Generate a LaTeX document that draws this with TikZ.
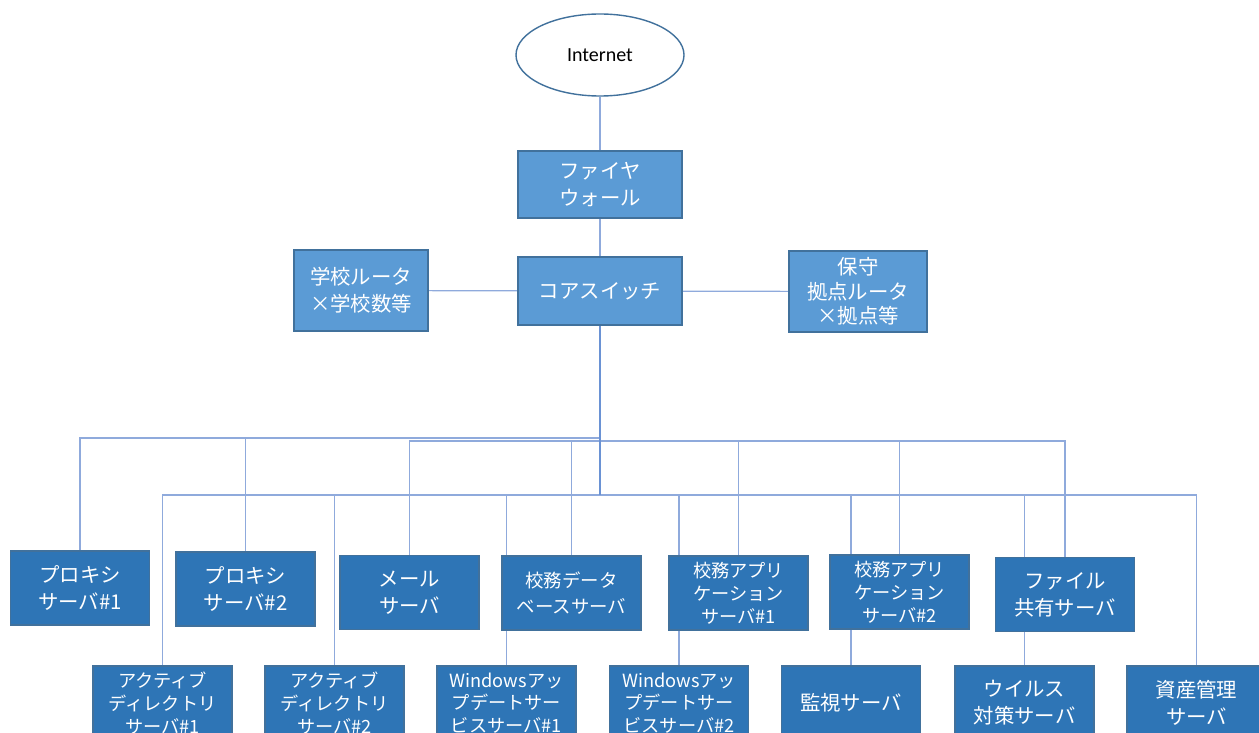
\documentclass[tikz,border=0pt]{standalone}
\usepackage{fontspec}
\newfontfamily\cjk{Noto Sans CJK JP}
\newfontfamily\lat{Carlito}
\usetikzlibrary{shapes.geometric,backgrounds,calc}
\definecolor{topfill}{HTML}{5B9BD5}
\definecolor{lowfill}{HTML}{2E75B6}
\definecolor{boxline}{HTML}{41719C}
\definecolor{linkc}{HTML}{8FAADC}
\definecolor{trunkc}{HTML}{6A92D4}
\begin{document}
\begin{tikzpicture}[x=0.5pt,y=-0.5pt,
  box/.style={draw=boxline,line width=0.6pt,fill=lowfill,text=white,align=center,
    font=\cjk\fontsize{10.2}{13.5}\selectfont,minimum width=69.5pt,minimum height=37pt,inner sep=1pt},
  small/.style={font=\cjk\fontsize{9.1}{11.4}\selectfont},
  topbox/.style={box,fill=topfill},
  link/.style={draw=linkc,line width=0.6pt},
  trunk/.style={draw=trunkc,line width=0.7pt}]
\useasboundingbox (0,0) rectangle (1259,733);
% top part
\node[ellipse,draw=boxline,line width=0.7pt,fill=white,minimum width=84pt,minimum height=41pt,
  font=\lat\fontsize{10}{12}\selectfont] (inet) at (600,55) {Internet};
\node[topbox,minimum width=82pt,minimum height=33.5pt] (fw) at (600,184.5) {ファイヤ\\ウォール};
\node[topbox,minimum width=82pt,minimum height=34pt] (core) at (600,291) {コアスイッチ};
\node[topbox,minimum width=67pt,minimum height=40.5pt] (school) at (361,290.5) {学校ルータ\\×学校数等};
\node[topbox,minimum width=69pt,minimum height=40.5pt,font=\cjk\fontsize{10.2}{12.3}\selectfont] (hoshu) at (858,291.5) {保守\\拠点ルータ\\×拠点等};
% middle row
\node[box] (px1) at (80,588) {プロキシ\\サーバ\#1};
\node[box] (px2) at (245.5,589) {プロキシ\\サーバ\#2};
\node[box] (mail) at (409.5,592.5) {メール\\サーバ};
\node[box,small,font=\cjk\fontsize{9.2}{13}\selectfont] (db) at (571.5,593) {校務データ\\ベースサーバ};
\node[box,small] (app1) at (738.5,593) {校務アプリ\\ケーション\\サーバ\#1};
\node[box,small] (app2) at (899.5,592) {校務アプリ\\ケーション\\サーバ\#2};
\node[box] (file) at (1065,594.5) {ファイル\\共有サーバ};
% bottom row
\node[box,small] (ad1) at (162.5,703) {アクティブ\\ディレクトリ\\サーバ\#1};
\node[box,small] (ad2) at (334.5,703) {アクティブ\\ディレクトリ\\サーバ\#2};
\node[box,small] (win1) at (506.5,703) {Windowsアッ\\プデートサー\\ビスサーバ\#1};
\node[box,small] (win2) at (679,703) {Windowsアッ\\プデートサー\\ビスサーバ\#2};
\node[box] (mon) at (851,703) {監視サーバ};
\node[box] (virus) at (1024.5,703) {ウイルス\\対策サーバ};
\node[box] (asset) at (1196.5,703) {資産管理\\サーバ};
% connectors
\coordinate (busA) at (600,438);
\coordinate (busB) at (600,441);
\coordinate (busC) at (600,495);
\begin{scope}[on background layer]
\fill[white] (0,0) rectangle (1259,733);
\draw[link] (inet) -- (fw);
\draw[link] (fw) -- (core);
\draw[link] (core) -- (school);
\draw[link] (core) -- (hoshu);
\foreach \n in {px1,px2}
  \draw[link] (busA) -| (\n.north);
\foreach \n in {mail,db,app1,app2,file}
  \draw[link] (busB) -| (\n.north);
\foreach \n in {ad1,ad2,win1,win2,mon,virus,asset}
  \draw[link] (busC) -| (\n.north);
\draw[trunk] (core.south) -- (busC);
\end{scope}
\end{tikzpicture}
\end{document}
